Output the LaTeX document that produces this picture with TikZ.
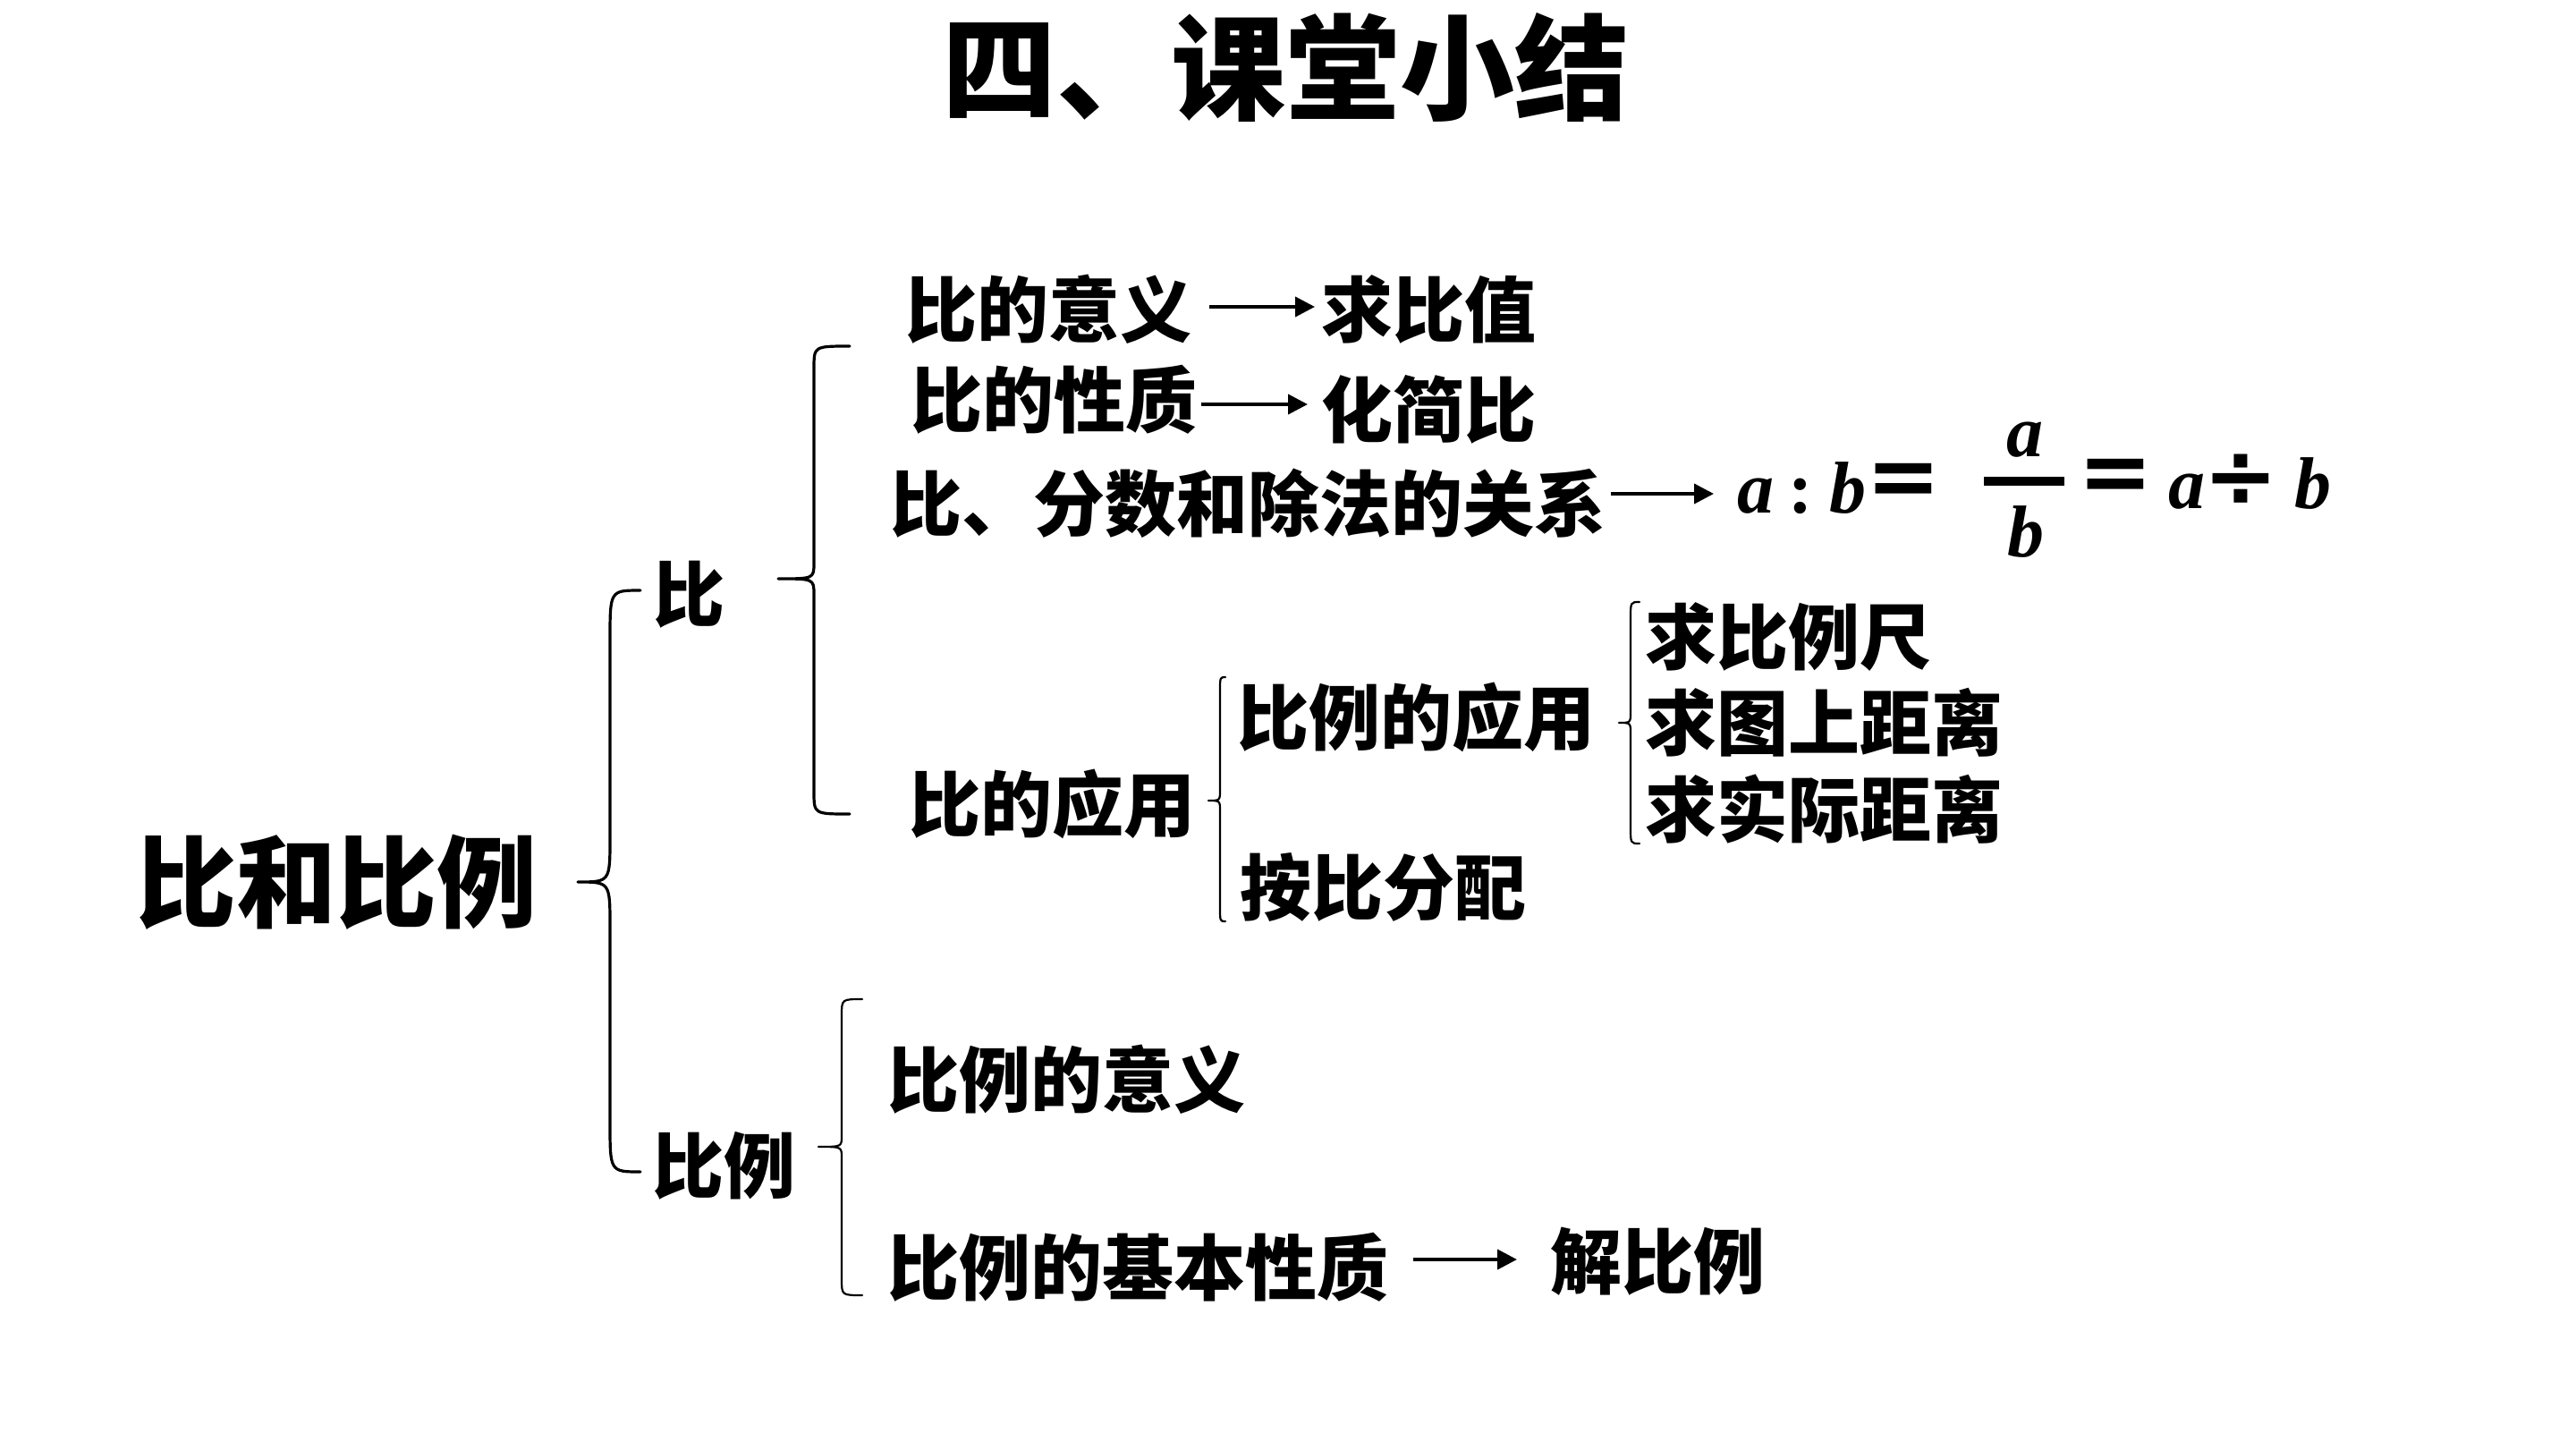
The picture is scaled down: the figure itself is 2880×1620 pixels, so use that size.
\documentclass[tikz,border=0pt]{standalone}
\usepackage{fontspec}
\usetikzlibrary{arrows.meta,calc}
\newfontfamily\cjk{Noto Sans CJK SC}
\newfontfamily\tms{Liberation Serif}
\newfontfamily\djv{DejaVu Sans}
\tikzset{
  lbl/.style={inner sep=0pt, anchor=west, font=\cjk\bfseries\fontsize{80}{96}\selectfont, text height=66.4pt, text depth=5.6pt},
  mathit/.style={inner sep=0pt, anchor=base west, font=\tms\bfseries\itshape\fontsize{82}{96}\selectfont},
  mathop/.style={inner sep=0pt, anchor=center, font=\djv\bfseries\fontsize{100}{110}\selectfont},
  arr/.style={line width=4pt, -{Triangle[length=22pt,width=22pt]}},
  brc/.style={line width=3.2pt, line cap=round, line join=round},
  sbrc/.style={line width=2.2pt, line cap=round, line join=round}
}
\begin{document}
\begin{tikzpicture}[x=1pt,y=-1pt]
\fill[white] (0,0) rectangle (2880,1620);
\useasboundingbox (0,0) rectangle (2880,1620);

% title
\node[inner sep=0pt, font=\cjk\bfseries\fontsize{128}{140}\selectfont, text height=106pt, text depth=9pt] (title) at (1437,76) {四、课堂小结};

% root
\node[inner sep=0pt, font=\cjk\bfseries\fontsize{112}{130}\selectfont, text height=93pt, text depth=8pt] (root) at (376,986) {比和比例};

% level 1
\node[lbl] (bi) at (730,664) {比};
\node[lbl] (bili) at (729,1303) {比例};

% 比 group
\node[lbl] (yiyi) at (1012,346) {比的意义};
\node[lbl] (qbz) at (1477,346) {求比值};
\node[lbl] (xingzhi) at (1018,447) {比的性质};
\node[lbl] (hjb) at (1477,458) {化简比};
\node[lbl] (guanxi) at (995,563) {比、分数和除法的关系};
\node[lbl] (yingyong) at (1016,899) {比的应用};
\node[lbl] (blyy) at (1383,802) {比例的应用};
\node[lbl] (abfp) at (1386,992) {按比分配};
\node[lbl] (qblc) at (1839,712) {求比例尺};
\node[lbl] (qtsjl) at (1839,808) {求图上距离};
\node[lbl] (qsjjl) at (1839,905) {求实际距离};

% 比例 group
\node[lbl] (blyiyi) at (992,1207) {比例的意义};
\node[lbl] (bljb) at (992,1417) {比例的基本性质};
\node[lbl] (jbl) at (1733,1410) {解比例};

% formula
\node[mathit] (fa) at (1942,573) {a};
\node[inner sep=0pt, anchor=base, font=\tms\bfseries\fontsize{82}{96}\selectfont] (fcol) at (2013,573) {:};
\node[mathit] (fb) at (2045,573) {b};
\node[mathop] (feq) at (2128,542) {=};
\node[inner sep=0pt, anchor=base, font=\tms\bfseries\itshape\fontsize{82}{96}\selectfont] (fnum) at (2264,510) {a};
\draw[line width=10pt] (2218,538) -- (2308,538);
\node[inner sep=0pt, anchor=base, font=\tms\bfseries\itshape\fontsize{82}{96}\selectfont] (fden) at (2265,622) {b};
\node[mathop] (feq2) at (2365,537) {=};
\node[mathit] (fa2) at (2424,568) {a};
\node[mathop] (fdiv) at (2505,537) {÷};
\node[mathit] (fb2) at (2565,568) {b};

% arrows
\draw[arr] ($(yiyi.east)+(20,-3)$) -- ($(qbz.west |- yiyi.east)+(-7,-3)$);
\draw[arr] ($(xingzhi.east)+(5,5)$) -- ($(hjb.west |- xingzhi.east)+(-15,5)$);
\draw[arr] ($(guanxi.east)+(6,-11)$) -- ($(fa.base west |- guanxi.east)+(-26,-11)$);
\draw[arr] ($(bljb.east)+(28,-9)$) -- ($(jbl.west |- bljb.east)+(-37,-9)$);

% braces
% root brace
\draw[brc] (716,660) .. controls (682,660) .. (682,715) -- (682,936)
  .. controls (682,986) .. (646,986) .. controls (682,986) .. (682,1036)
  -- (682,1255) .. controls (682,1310) .. (716,1310);
% 比 brace
\draw[brc] (950,387) .. controls (910,387) .. (910,412) -- (910,629)
  .. controls (910,647) .. (870,647) .. controls (910,647) .. (910,665)
  -- (910,885) .. controls (910,910) .. (950,910);
% 比例 brace
\draw[sbrc] (964,1117) .. controls (941,1117) .. (941,1135) -- (941,1270)
  .. controls (941,1282) .. (915,1282) .. controls (941,1282) .. (941,1294)
  -- (941,1430) .. controls (941,1448) .. (964,1448);
% 比的应用 brace
\draw[sbrc] (1370,757) .. controls (1364,757) .. (1364,773) -- (1364,883)
  .. controls (1364,895) .. (1351,895) .. controls (1364,895) .. (1364,907)
  -- (1364,1014) .. controls (1364,1030) .. (1370,1030);
% 比例的应用 brace
\draw[sbrc] (1833,673) .. controls (1823,673) .. (1823,691) -- (1823,796)
  .. controls (1823,808) .. (1810,808) .. controls (1823,808) .. (1823,820)
  -- (1823,925) .. controls (1823,943) .. (1833,943);
\end{tikzpicture}
\end{document}
